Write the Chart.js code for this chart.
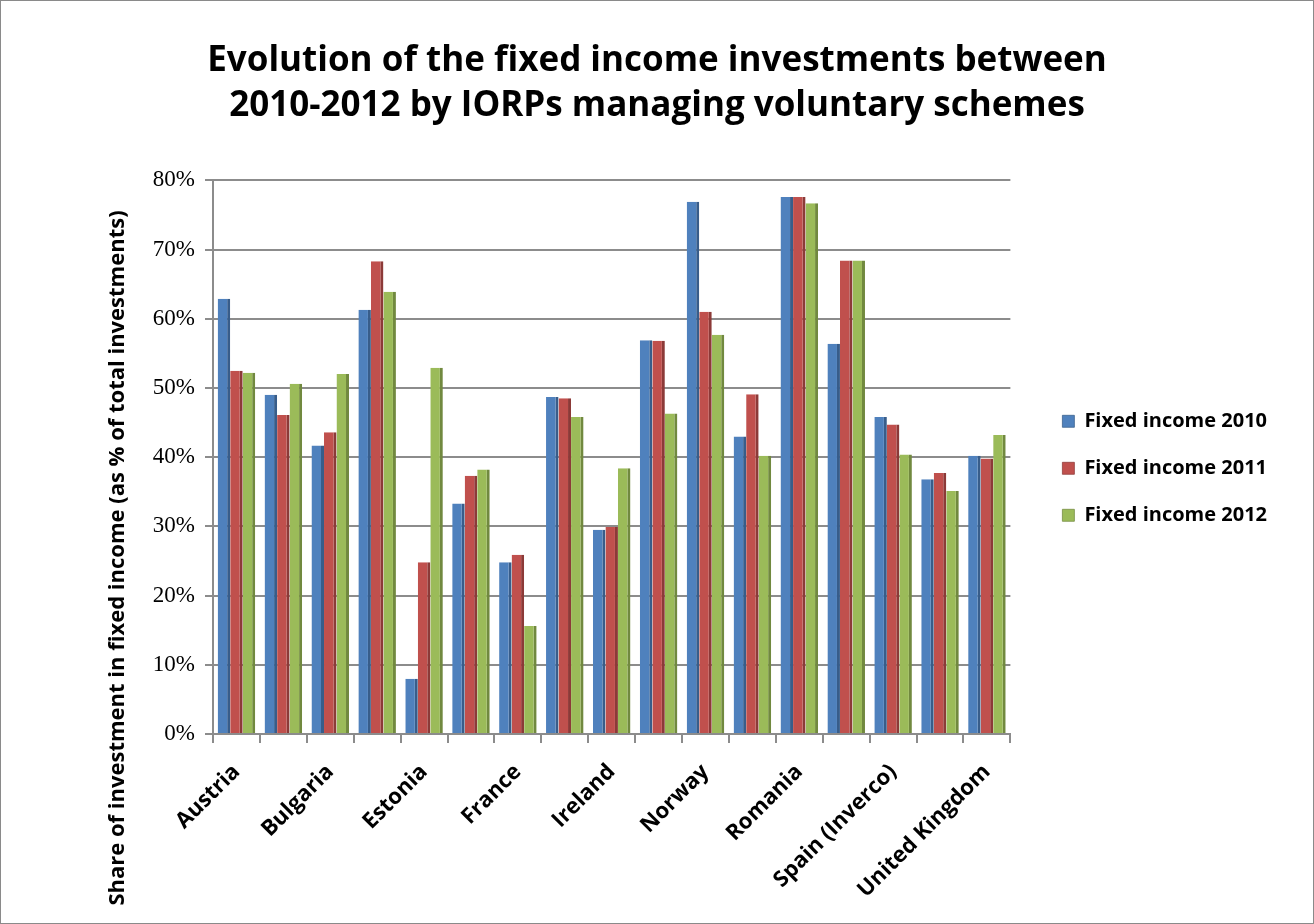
<!DOCTYPE html>
<html lang="en">
<head>
  <meta charset="UTF-8" />
  <title>Fixed income investments 2010-2012</title>
  <script src="https://cdn.jsdelivr.net/npm/chart.js"></script>
  <style>
    html, body { margin: 0; padding: 0; background: #fff; }
    #frame {
      position: absolute; left: 0; top: 0;
      width: 1314px; height: 924px;
      box-sizing: border-box;
      border: 1px solid #8a8a8a;
    }
    #chart { display: block; }
  </style>
</head>
<body>
<div id="frame">
  <canvas id="chart" width="1312" height="922"></canvas>
</div>
<script>
  const countries = [
    "Austria", "Belgium", "Bulgaria", "Croatia", "Estonia", "Finland",
    "France", "Germany", "Ireland", "Italy", "Norway", "Portugal",
    "Romania", "Slovenia", "Spain (Inverco)", "Sweden", "United Kingdom"
  ];
  const fixed2010 = [62.9, 49.0, 41.7, 61.3, 8.0, 33.3, 24.8, 48.7, 29.5, 56.9, 76.9, 43.0, 77.6, 56.4, 45.8, 36.8, 40.2];
  const fixed2011 = [52.5, 46.1, 43.6, 68.3, 24.8, 37.3, 25.9, 48.5, 29.9, 56.8, 61.0, 49.1, 77.6, 68.4, 44.7, 37.7, 39.8];
  const fixed2012 = [52.2, 50.6, 52.0, 63.9, 52.9, 38.2, 15.6, 45.8, 38.4, 46.3, 57.7, 40.2, 76.7, 68.4, 40.4, 35.1, 43.2];
  const seriesNames = ["Fixed income 2010", "Fixed income 2011", "Fixed income 2012"];
  const yTicks = [0, 10, 20, 30, 40, 50, 60, 70, 80];

  const faceColors = ["#4f81bd", "#c0504d", "#9bbb59"];
  const sideColors = ["#385d8a", "#8c3a38", "#71893f"];
  const gridGray = "#8c8c8c";
  const yTitle = "Share of investment in fixed income (as % of total investments)";

  // rotated axis title, centred on plot + category labels like the original sheet
  const yTitlePlugin = {
    id: "yTitle",
    afterDraw(chart) {
      const ctx = chart.ctx;
      ctx.save();
      ctx.translate(117, 557);
      ctx.rotate(-Math.PI / 2);
      ctx.font = "bold 22px 'Open Sans'";
      ctx.fillStyle = "#000";
      ctx.textAlign = "center";
      ctx.textBaseline = "middle";
      ctx.fillText(yTitle, 0, 0);
      ctx.restore();
    }
  };

  const makeSet = (label, data, i) => ({
    label,
    data,
    backgroundColor: faceColors[i],
    borderColor: sideColors[i],
    borderWidth: { top: 0, left: 0, bottom: 0, right: 3 },
    borderSkipped: false,
    categoryPercentage: 0.8,
    barPercentage: 1.0
  });

  new Chart(document.getElementById("chart"), {
    type: "bar",
    data: {
      labels: countries,
      datasets: [
        makeSet(seriesNames[0], fixed2010, 0),
        makeSet(seriesNames[1], fixed2011, 1),
        makeSet(seriesNames[2], fixed2012, 2)
      ]
    },
    options: {
      responsive: false,
      animation: false,
      layout: { padding: { left: 36, right: 36, top: 0, bottom: 0 } },
      plugins: {
        title: {
          display: true,
          text: [
            "Evolution of the fixed income investments between",
            "2010-2012 by IORPs managing voluntary schemes"
          ],
          color: "#000",
          font: { family: "'Open Sans'", size: 35, weight: "bold", lineHeight: 1.29 },
          padding: { top: 37, bottom: 52 }
        },
        legend: {
          position: "right",
          fullSize: false,
          align: "start",
          maxWidth: 340,
          // blank title only pushes the entries down the column
          title: { display: true, text: " ", padding: { top: 192, bottom: 0 }, font: { size: 10 } },
          labels: {
            color: "#000",
            font: { family: "'Open Sans'", size: 20, weight: "bold" },
            boxWidth: 12,
            boxHeight: 12,
            padding: 27
          }
        },
        tooltip: { enabled: false }
      },
      scales: {
        x: {
          afterFit: scale => { scale.height = 189; },
          grid: {
            offset: true,
            drawOnChartArea: false,
            color: gridGray,
            lineWidth: 2,
            tickLength: 9
          },
          border: { color: gridGray, width: 2 },
          ticks: {
            autoSkip: false,
            maxRotation: 45,
            minRotation: 45,
            padding: 16,
            color: "#000",
            font: { family: "'Open Sans'", size: 22, weight: "bold" },
            callback: function (value, index) {
              return index % 2 === 0 ? this.getLabelForValue(value) : "";
            }
          }
        },
        y: {
          min: 0,
          max: 80,
          afterFit: scale => { scale.width = 176; },
          afterBuildTicks: scale => { scale.ticks = yTicks.map(v => ({ value: v })); },
          grid: { color: gridGray, lineWidth: 2, tickLength: 8 },
          border: { color: gridGray, width: 2 },
          ticks: {
            color: "#000",
            padding: 10,
            font: { family: "'Liberation Serif'", size: 23 },
            callback: v => v + "%"
          }
        },
        gap: {
          position: "right",
          afterFit: scale => { scale.width = 25; },
          grid: { display: false },
          border: { display: false },
          ticks: { display: false }
        }
      }
    },
    plugins: [yTitlePlugin]
  });
</script>
</body>
</html>
